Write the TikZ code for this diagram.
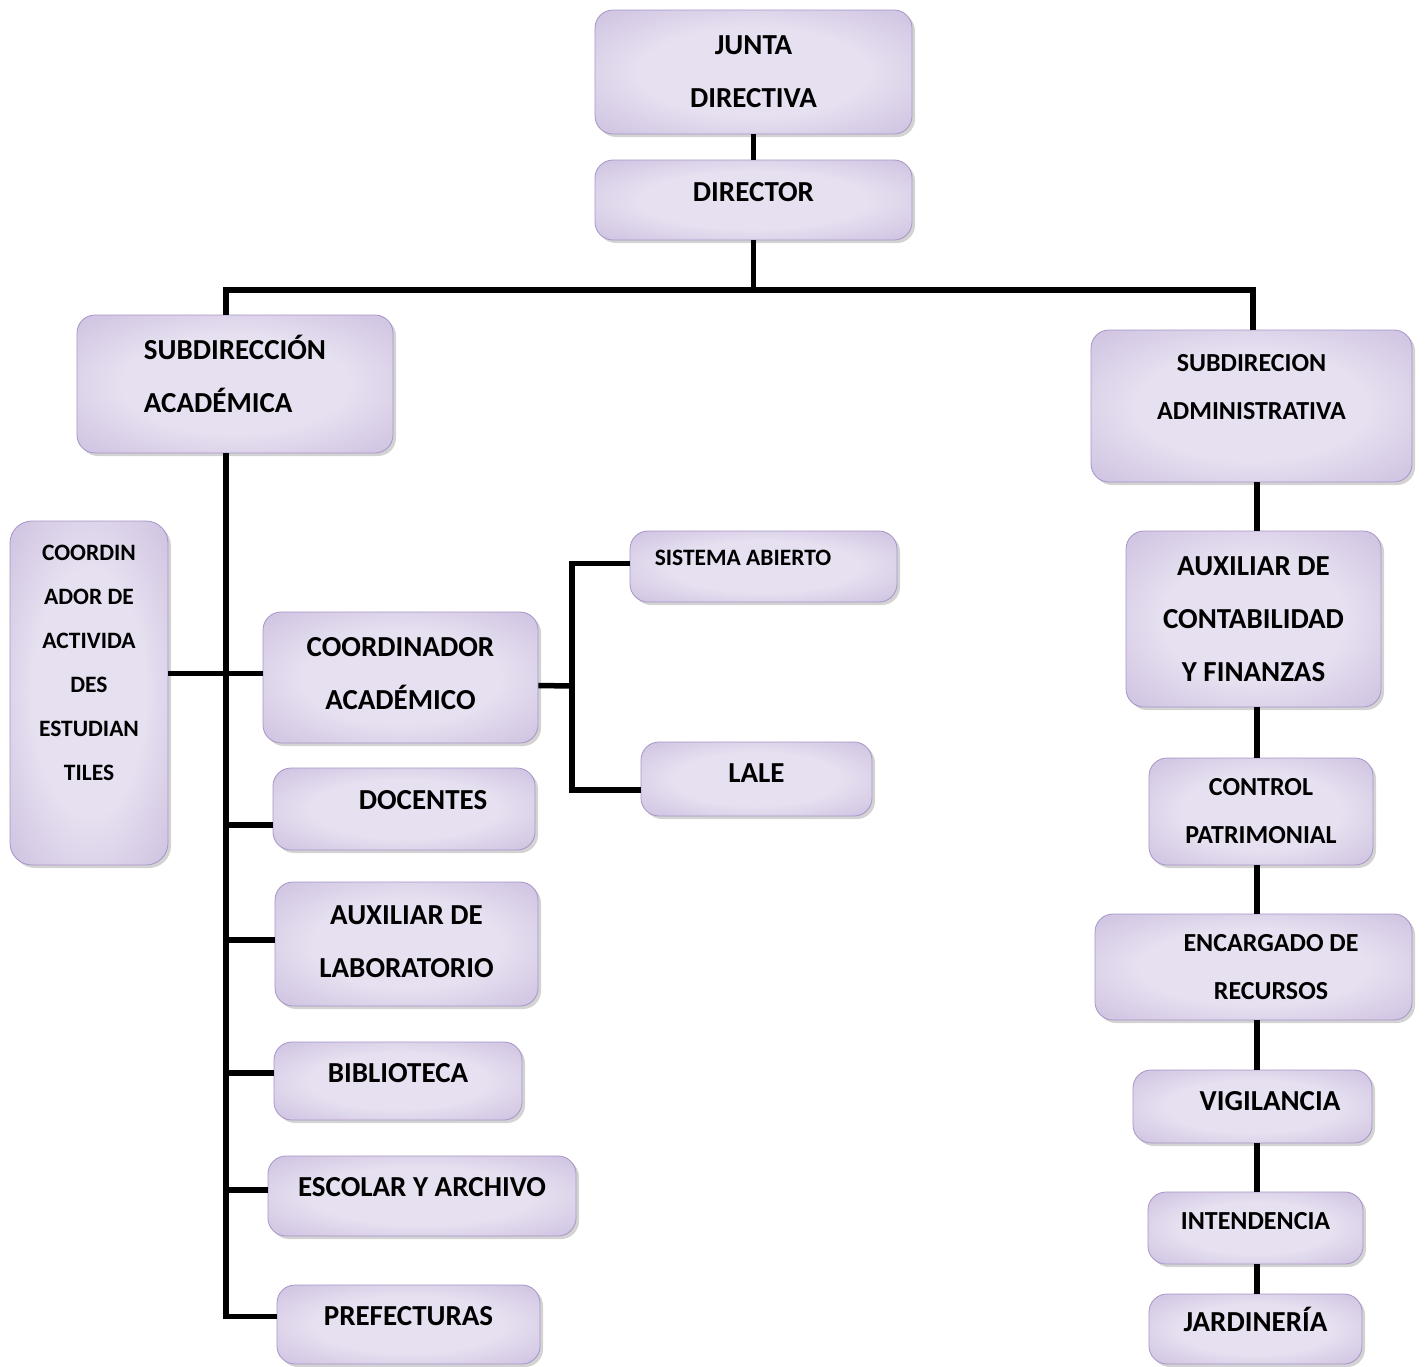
\documentclass[tikz,border=0pt]{standalone}
\usepackage{fontspec}
\setmainfont{Carlito}
\usepackage{tikz}
\usetikzlibrary{calc, positioning, shadows}
\definecolor{boxlight}{RGB}{230,224,240}
\definecolor{boxmid}{RGB}{200,186,221}
\definecolor{boxdark}{RGB}{162,140,194}
\definecolor{boxedge}{RGB}{168,148,198}
\pgfdeclareradialshading{boxglow}{\pgfpoint{0bp}{0bp}}{color(0bp)=(boxlight); color(18bp)=(boxlight); color(40bp)=(boxmid); color(62bp)=(boxdark)}

\begin{document}
\begin{tikzpicture}[
        x=1pt, y=-1pt,
        box/.style = {draw=boxedge, line width=0.8pt, rounded corners=18pt, shading=boxglow, align=center, inner sep=0pt,
                      drop shadow={shadow xshift=3pt, shadow yshift=-3pt, opacity=0.35}},
        big/.style = {font=\bfseries\fontsize{29}{53}\selectfont, text height=18.7pt},
        med/.style = {font=\bfseries\fontsize{26}{48}\selectfont, text height=16.7pt},
        small/.style = {font=\bfseries\fontsize{23.5}{44}\selectfont, text height=15.1pt},
        sz/.style 2 args = {minimum width=#1pt, minimum height=#2pt},
        lift/.style = {text depth=#1pt},
        tall/.style = {text height=#1pt},
        link/.style = {draw=black, line width=5.5pt}
    ]
        \useasboundingbox (0,0) rectangle (1426,1366);

        % Top
        \node (junta) [box, big, sz={317}{124}, tall=71.7, lift=0] at (753.5,72) {JUNTA\\DIRECTIVA};
        \node (director) [box, big, sz={317}{80}, lift=16] at (753.5,200) {DIRECTOR};

        % Subdirecciones
        \node (subacad) [box, big, sz={316}{138}, tall=71.7, lift=15, align=left] at (235,384) {SUBDIRECCIÓN\\ACADÉMICA};
        \node (subadm) [box, med, sz={321}{152}, tall=64.7, lift=38] at (1251.5,406) {SUBDIRECION\\ADMINISTRATIVA};

        % Academic side
        \node (coordact) [box, small, sz={158}{344}, tall=235.1, lift=61, rounded corners=22pt] at (89,693) {COORDIN\\ADOR DE\\ACTIVIDA\\DES\\ESTUDIAN\\TILES};
        \node (coordacad) [box, big, sz={275}{131}, tall=71.7, lift=8] at (400.5,677.5) {COORDINADOR\\ACADÉMICO};
        \node (docentes) [box, big, sz={262}{82}, lift=18] at (404,809) {\hspace*{38pt}DOCENTES};
        \node (auxlab) [box, big, sz={263}{124}, tall=71.7, lift=5] at (406.5,944) {AUXILIAR DE\\LABORATORIO};
        \node (biblioteca) [box, big, sz={248}{78}, lift=16] at (398,1081) {BIBLIOTECA};
        \node (escolar) [box, big, sz={308}{80}, lift=18] at (422,1196) {ESCOLAR Y ARCHIVO};
        \node (prefecturas) [box, big, sz={263}{79}, lift=17] at (408.5,1324.5) {PREFECTURAS};
        \node (sistema) [box, small, sz={267}{71}, lift=17] at (763.5,566.5) {\mbox{SISTEMA ABIERTO\hspace{41pt}}};
        \node (lale) [box, big, sz={231}{74}, lift=12] at (756.5,779) {LALE};

        % Administrative side
        \node (auxcont) [box, big, sz={255}{176}, tall=124.7, lift=0] at (1253.5,619) {AUXILIAR DE\\CONTABILIDAD\\Y FINANZAS};
        \node (control) [box, med, sz={224}{107}, tall=64.7, lift=0] at (1261,811.5) {CONTROL\\PATRIMONIAL};
        \node (encargado) [box, med, sz={317}{106}, tall=64.7, lift=0] at (1253.5,967) {\hspace*{35pt}ENCARGADO DE\\\hspace*{35pt}RECURSOS};
        \node (vigilancia) [box, big, sz={239}{73}, lift=11] at (1252.5,1106.5) {\hspace*{35pt}VIGILANCIA};
        \node (intendencia) [box, med, sz={215}{72}, lift=14] at (1255.5,1228) {INTENDENCIA};
        \node (jardineria) [box, big, sz={213}{70}, lift=14] at (1255.5,1329) {JARDINERÍA};

        % Bus lines
        \coordinate (lbus) at (226,290);
        \coordinate (dbus) at (753.5,290);
        \coordinate (rbus) at (1253,290);
        \coordinate (rline) at (1257,0);
        \coordinate (fork) at (572,686);

        % Connectors
        \draw [link] (junta) -- (director);
        \draw [link] (director) -- (dbus);
        \draw [link] (subacad.north -| lbus) -- (lbus) -- (rbus) -- (subadm.north -| rbus);

        \draw [link] (subacad.south -| lbus) |- ([yshift=8pt]prefecturas.west);
        \foreach \n/\s in {docentes/-16, auxlab/4, biblioteca/8, escolar/6}
            \draw [link] ([yshift=\s pt]\n.west) -- ([yshift=\s pt]\n.west -| lbus);
        \draw [link] ([yshift=4pt]coordacad.west) -- ([yshift=4pt]coordacad.west -| coordact.east);

        \draw [link] ([yshift=-8pt]coordacad.east) -- (fork);
        \draw [link] ([yshift=3pt]sistema.west) -| (fork) |- ([yshift=-11pt]lale.west);

        \foreach \a/\b in {subadm/auxcont, auxcont/control, control/encargado, encargado/vigilancia, vigilancia/intendencia, intendencia/jardineria}
            \draw [link] (\a.south -| rline) -- (\b.north -| rline);

\end{tikzpicture}
\end{document}
